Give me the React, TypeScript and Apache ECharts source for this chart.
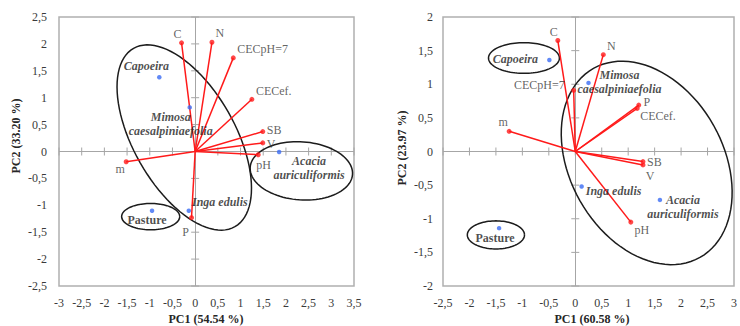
import React, { useEffect, useRef } from 'react';
import * as echarts from 'echarts';

// ---------- Left biplot (PC1 54.54 %, PC2 33.20 %) ----------
const L_VAR_NAMES = ['C', 'N', 'CECpH=7', 'CECef.', 'SB', 'V', 'pH', 'm', 'P'];
const L_VAR_PC1 = [-0.3, 0.37, 0.84, 1.25, 1.49, 1.49, 1.39, -1.52, -0.08];
const L_VAR_PC2 = [2.02, 2.03, 1.74, 0.97, 0.37, 0.16, -0.06, -0.19, -1.23];
const L_SITE_NAMES = ['Capoeira', 'Mimosa\ncaesalpiniaefolia', 'Acacia\nauriculiformis', 'Inga edulis', 'Pasture'];
const L_SITE_PC1 = [-0.79, -0.12, 1.85, -0.14, -0.95];
const L_SITE_PC2 = [1.38, 0.82, -0.01, -1.1, -1.1];
const L_X_TICKS = [-3, -2.5, -2, -1.5, -1, -0.5, 0, 0.5, 1, 1.5, 2, 2.5, 3, 3.5];
const L_Y_TICKS = [-2.5, -2, -1.5, -1, -0.5, 0, 0.5, 1, 1.5, 2, 2.5];
// groups: center PC1, center PC2, semi-axes (PC1 units), tilt (deg)
const L_ELL_CX = [-0.24, 2.34, -0.98];
const L_ELL_CY = [0.26, -0.36, -1.21];
const L_ELL_A = [2.26, 1.13, 0.64];
const L_ELL_B = [1.12, 0.64, 0.29];
const L_ELL_ANGLE = [60.4, 4, 0];

// ---------- Right biplot (PC1 60.58 %, PC2 23.97 %) ----------
const R_VAR_NAMES = ['C', 'N', 'CECpH=7', 'P', 'CECef.', 'SB', 'V', 'm', 'pH'];
const R_VAR_PC1 = [-0.33, 0.53, -0.03, 1.2, 1.17, 1.28, 1.28, -1.25, 1.05];
const R_VAR_PC2 = [1.65, 1.44, 0.91, 0.69, 0.64, -0.15, -0.2, 0.3, -1.05];
const R_SITE_NAMES = ['Capoeira', 'Mimosa\ncaesalpiniaefolia', 'Acacia\nauriculiformis', 'Inga edulis', 'Pasture'];
const R_SITE_PC1 = [-0.49, 0.25, 1.6, 0.12, -1.44];
const R_SITE_PC2 = [1.36, 1.02, -0.72, -0.52, -1.14];
const R_X_TICKS = [-2.5, -2, -1.5, -1, -0.5, 0, 0.5, 1, 1.5, 2, 2.5, 3];
const R_Y_TICKS = [-2, -1.5, -1, -0.5, 0, 0.5, 1, 1.5, 2];
const R_ELL_CX = [1.35, -0.97, -1.5];
const R_ELL_CY = [-0.17, 1.39, -1.24];
const R_ELL_A = [2.05, 0.67, 0.54];
const R_ELL_B = [1.45, 0.29, 0.265];
const R_ELL_ANGLE = [60.6, 0, 0];

// ---------- label placement (layout only) ----------
type LP = { dx: number; dy: number; align: 'left' | 'center' | 'right' };
const L_VAR_LABEL: Record<string, LP> = {
  C: { dx: -4, dy: -9, align: 'center' },
  N: { dx: 8, dy: -9, align: 'center' },
  'CECpH=7': { dx: 4, dy: -9, align: 'left' },
  'CECef.': { dx: 4, dy: -8, align: 'left' },
  SB: { dx: 4, dy: -2, align: 'left' },
  V: { dx: 4, dy: 1, align: 'left' },
  pH: { dx: -2, dy: 10, align: 'left' },
  m: { dx: -6, dy: 7, align: 'center' },
  P: { dx: -6, dy: 14, align: 'center' },
};
const R_VAR_LABEL: Record<string, LP> = {
  C: { dx: -4, dy: -9, align: 'center' },
  N: { dx: 8, dy: -9, align: 'center' },
  'CECpH=7': { dx: -9, dy: -5, align: 'right' },
  P: { dx: 8, dy: -3, align: 'center' },
  'CECef.': { dx: 3, dy: 8, align: 'left' },
  SB: { dx: 4, dy: 0, align: 'left' },
  V: { dx: 7, dy: 11, align: 'center' },
  m: { dx: -6, dy: -9, align: 'center' },
  pH: { dx: 11, dy: 8, align: 'center' },
};
const L_SITE_LABEL: LP[] = [
  { dx: -13, dy: -11, align: 'center' },
  { dx: -19, dy: 17, align: 'center' },
  { dx: 30, dy: 16, align: 'center' },
  { dx: 31, dy: -9, align: 'center' },
  { dx: -5, dy: 9, align: 'center' },
];
const R_SITE_LABEL: LP[] = [
  { dx: -34, dy: -1, align: 'center' },
  { dx: 31, dy: -1, align: 'center' },
  { dx: 23, dy: 7, align: 'center' },
  { dx: 32, dy: 5, align: 'center' },
  { dx: -4, dy: 10, align: 'center' },
];

const SERIF = 'Liberation Serif, serif';
const TXT = '#3a3a3a';
const GRAYLINE = '#a6a6a6';

function buildPanel(
  gi: number,
  varNames: string[], varX: number[], varY: number[], varLab: Record<string, LP>,
  siteNames: string[], siteX: number[], siteY: number[], siteLab: LP[],
  xTicks: number[], yTicks: number[],
  ecx: number[], ecy: number[], ea: number[], eb: number[], eang: number[]
) {
  const ellipseData = ecx.map((c, i) => [c, ecy[i], ea[i], eb[i], eang[i]]);
  const tickData = [
    ...xTicks.map((v) => [v, 0, 0]),
    ...yTicks.map((v) => [0, v, 1]),
  ];
  const series: any[] = [
    {
      type: 'custom',
      xAxisIndex: gi,
      yAxisIndex: gi,
      silent: true,
      z: 1,
      data: tickData,
      renderItem: (params: any, api: any) => {
        const p = api.coord([api.value(0), api.value(1)]);
        const vertical = api.value(2) === 0;
        return {
          type: 'line',
          shape: vertical
            ? { x1: p[0], y1: p[1] - 4, x2: p[0], y2: p[1] + 4 }
            : { x1: p[0] - 4, y1: p[1], x2: p[0] + 4, y2: p[1] },
          style: { stroke: GRAYLINE, lineWidth: 1 },
        };
      },
    },
    {
      type: 'custom',
      xAxisIndex: gi,
      yAxisIndex: gi,
      silent: true,
      clip: false,
      z: 2,
      data: ellipseData,
      renderItem: (params: any, api: any) => {
        const c = api.coord([api.value(0), api.value(1)]);
        const k = api.size([1, 0])[0];
        const a = api.value(2) * k;
        const b = api.value(3) * k;
        const th = (api.value(4) * Math.PI) / 180;
        const pts: number[][] = [];
        for (let i = 0; i <= 96; i++) {
          const t = (i / 96) * 2 * Math.PI;
          const x = a * Math.cos(t);
          const y = b * Math.sin(t);
          pts.push([c[0] + x * Math.cos(th) - y * Math.sin(th), c[1] + x * Math.sin(th) + y * Math.cos(th)]);
        }
        return { type: 'polyline', shape: { points: pts }, style: { stroke: '#1c1c1c', lineWidth: 1.5, fill: null } };
      },
    },
    {
      type: 'custom',
      xAxisIndex: gi,
      yAxisIndex: gi,
      silent: true,
      z: 3,
      data: varX.map((x, i) => [x, varY[i]]),
      renderItem: (params: any, api: any) => {
        const o = api.coord([0, 0]);
        const p = api.coord([api.value(0), api.value(1)]);
        return { type: 'line', shape: { x1: o[0], y1: o[1], x2: p[0], y2: p[1] }, style: { stroke: '#ff1a1a', lineWidth: 1.5 } };
      },
    },
    {
      type: 'scatter',
      xAxisIndex: gi,
      yAxisIndex: gi,
      silent: true,
      z: 4,
      symbolSize: 5,
      itemStyle: { color: '#ff1a1a' },
      markLine: {
        silent: true,
        symbol: ['none', 'none'],
        label: { show: false },
        lineStyle: { color: GRAYLINE, type: 'solid', width: 1 },
        data: [{ xAxis: 0 }, { yAxis: 0 }],
        z: 1,
      },
      data: varNames.map((n, i) => {
        const lp = varLab[n];
        return {
          name: n,
          value: [varX[i], varY[i]],
          label: {
            show: true,
            position: 'inside',
            formatter: n,
            offset: [lp.dx, lp.dy],
            align: lp.align,
            verticalAlign: 'middle',
            color: TXT,
            fontFamily: SERIF,
            fontSize: 12,
            textBorderWidth: 0,
          },
        };
      }),
    },
    {
      type: 'scatter',
      xAxisIndex: gi,
      yAxisIndex: gi,
      silent: true,
      z: 5,
      symbolSize: 4.5,
      itemStyle: { color: '#3a6cf4' },
      data: siteNames.map((n, i) => {
        const lp = siteLab[i];
        return {
          name: n,
          value: [siteX[i], siteY[i]],
          label: {
            show: true,
            position: 'inside',
            formatter: n,
            offset: [lp.dx, lp.dy],
            align: lp.align,
            verticalAlign: 'middle',
            color: '#1e1e1e',
            fontFamily: SERIF,
            fontSize: 12,
            fontWeight: 'bold',
            fontStyle: n === 'Pasture' ? 'normal' : 'italic',
            lineHeight: 14,
            textBorderWidth: 0,
          },
        };
      }),
    },
  ];
  return series;
}

const fmt = (v: number) => String(v).replace('.', ',');

export default function App() {
  const ref = useRef<HTMLDivElement>(null);
  useEffect(() => {
    if (!ref.current) return;
    const chart = echarts.init(ref.current, undefined, { renderer: 'svg' });
    const axisLabel = (margin: number) => ({
      color: TXT,
      fontFamily: SERIF,
      fontSize: 12,
      margin,
      formatter: fmt,
    });
    const commonAxis = {
      axisLine: { show: false },
      axisTick: { show: false },
      splitLine: { show: false },
    };
    const titleStyle = (text: string) => ({
      text,
      fill: '#262626',
      font: `bold 12px ${SERIF}`,
      textAlign: 'center',
      textVerticalAlign: 'middle',
    });
    const option: any = {
      animation: false,
      backgroundColor: '#ffffff',
      grid: [
        { left: 59, top: 17, width: 295, height: 269, show: true, borderColor: '#b0b0b0', borderWidth: 1.5, backgroundColor: 'transparent' },
        { left: 443, top: 17, width: 297, height: 269, show: true, borderColor: '#b0b0b0', borderWidth: 1.5, backgroundColor: 'transparent' },
      ],
      xAxis: [
        { type: 'value', gridIndex: 0, min: -3, max: 3.5, interval: 0.5, ...commonAxis, axisLabel: axisLabel(11) },
        { type: 'value', gridIndex: 1, min: -2.5, max: 3, interval: 0.5, ...commonAxis, axisLabel: axisLabel(11) },
      ],
      yAxis: [
        { type: 'value', gridIndex: 0, min: -2.5, max: 2.5, interval: 0.5, ...commonAxis, axisLabel: axisLabel(12) },
        { type: 'value', gridIndex: 1, min: -2, max: 2, interval: 0.5, ...commonAxis, axisLabel: axisLabel(10) },
      ],
      graphic: [
        { type: 'text', x: 206, y: 319, style: titleStyle('PC1 (54.54 %)') },
        { type: 'text', x: 16, y: 136, rotation: Math.PI / 2, style: titleStyle('PC2 (33.20 %)') },
        { type: 'text', x: 592, y: 319, style: titleStyle('PC1 (60.58 %)') },
        { type: 'text', x: 402, y: 148, rotation: Math.PI / 2, style: titleStyle('PC2 (23.97 %)') },
      ],
      series: [
        ...buildPanel(0, L_VAR_NAMES, L_VAR_PC1, L_VAR_PC2, L_VAR_LABEL, L_SITE_NAMES, L_SITE_PC1, L_SITE_PC2, L_SITE_LABEL, L_X_TICKS, L_Y_TICKS, L_ELL_CX, L_ELL_CY, L_ELL_A, L_ELL_B, L_ELL_ANGLE),
        ...buildPanel(1, R_VAR_NAMES, R_VAR_PC1, R_VAR_PC2, R_VAR_LABEL, R_SITE_NAMES, R_SITE_PC1, R_SITE_PC2, R_SITE_LABEL, R_X_TICKS, R_Y_TICKS, R_ELL_CX, R_ELL_CY, R_ELL_A, R_ELL_B, R_ELL_ANGLE),
      ],
    };
    chart.setOption(option);
    return () => chart.dispose();
  }, []);
  return <div ref={ref} style={{ position: 'absolute', left: 0, top: 0, width: 740, height: 326 }} />;
}
